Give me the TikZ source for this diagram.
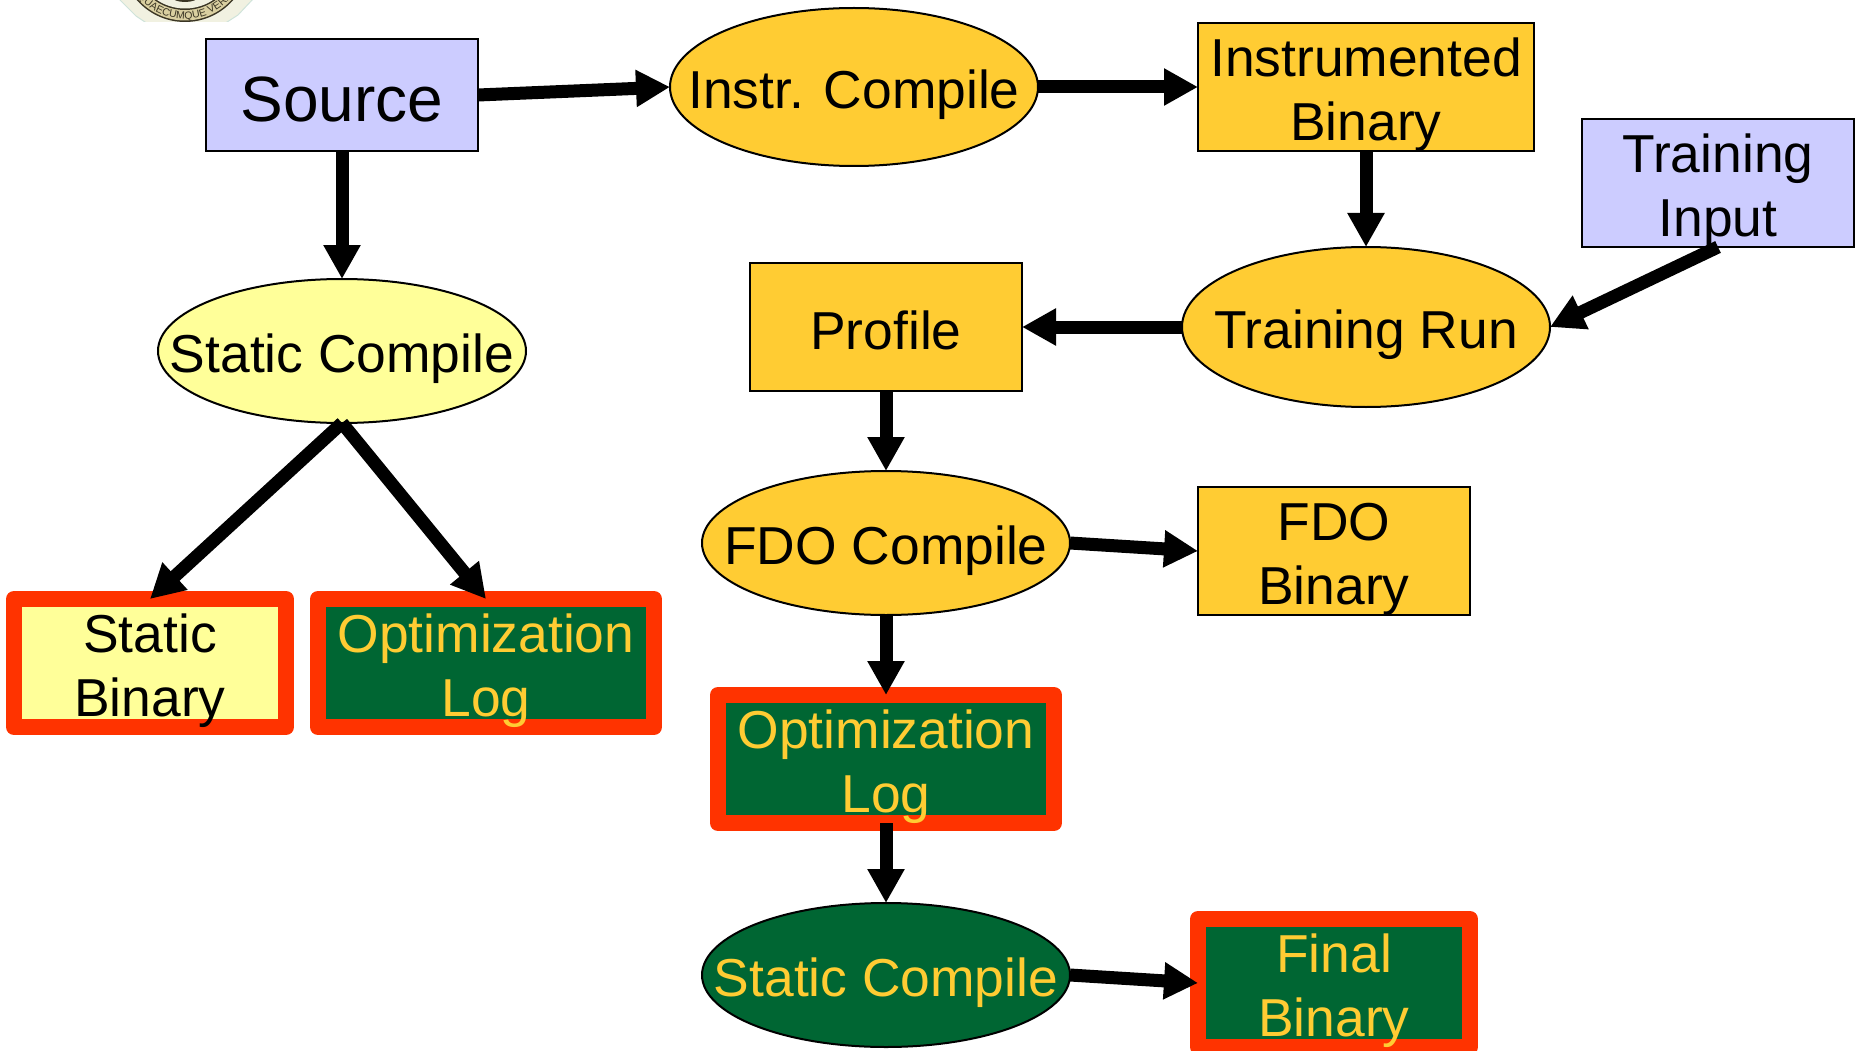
\documentclass[tikz,border=0pt]{standalone}
\usepackage{fontspec}
\setmainfont{Liberation Sans}
\usetikzlibrary{shapes.geometric,arrows.meta,decorations.text}
\definecolor{lav}{HTML}{CCCCFF}
\definecolor{pale}{HTML}{FFFF99}
\definecolor{amber}{HTML}{FFCC33}
\definecolor{forest}{HTML}{006633}
\definecolor{alert}{HTML}{FF3300}
\definecolor{sealcream}{HTML}{F1F1E1}
\definecolor{sealtan}{HTML}{D9CFA0}
\definecolor{sealedge}{HTML}{CFE3DA}
\definecolor{sealdark}{HTML}{3A3524}
\tikzset{
  box/.style={rectangle,draw=black,line width=2pt,inner sep=0pt,outer sep=0pt},
  oval/.style={ellipse,draw=black,line width=2pt,inner sep=0pt,outer sep=0pt},
  lab/.style={inner sep=0pt,outer sep=0pt,align=center,yshift=-8pt,font=\fontsize{53.4}{64}\selectfont},
  alertbox/.style={rectangle,draw=alert,line width=16pt,line join=round,fill=forest,inner sep=0pt,outer sep=0pt,
     minimum width=336pt,minimum height=128pt},
  flow/.style={draw=black,line width=13pt,-{Triangle[length=34pt,width=35pt]}},
}
\begin{document}
\begin{tikzpicture}[x=1pt,y=-1pt]
\useasboundingbox (0,0) rectangle (1860,1051);
% seal, cut off by the top of the frame
\begin{scope}
\clip (100,0) rectangle (270,22);
\fill[sealcream,draw=sealedge,line width=1pt] (118,-2) -- (136,16) -- (148,24) -- (224,24) -- (238,15) -- (254,-2) -- cycle;
\fill[sealdark] (185,-42) circle[radius=64pt];
\fill[sealtan] (185,-42) circle[radius=62.5pt];
\fill[sealdark] (185,-42) circle[radius=52pt];
\fill[sealcream] (185,-42) circle[radius=50.5pt];
\fill[sealdark] (185,-3) ellipse[x radius=13pt,y radius=5pt];
\path[decorate,decoration={text along path,text align=center,
   text={|\fontsize{10.5}{10.5}\selectfont\color{sealdark}|QUAECUMQUE VERA}}]
   (138.3,-2.8) .. controls (162.7,26.2) and (207.3,26.2) .. (231.7,-2.8);
\end{scope}
% nodes
\node[box,fill=lav,minimum width=272pt,minimum height=112pt] (source) at (342,95) {};
\node[lab,yshift=3.5pt,font=\fontsize{64}{64}\selectfont] (sourceL) at (source) {Source};
\node[oval,fill=amber,minimum width=368pt,minimum height=158pt] (instr) at (854,87) {};
\node[lab] (instrL) at (instr) {Instr. Compile};
\node[box,fill=amber,minimum width=336pt,minimum height=128pt] (instbin) at (1366,87) {};
\node[lab] (instbinL) at (instbin) {Instrumented\\Binary};
\node[box,fill=lav,minimum width=272pt,minimum height=128pt] (input) at (1718,183) {};
\node[lab] (inputL) at (input) {Training\\Input};
\node[oval,fill=amber,minimum width=368pt,minimum height=160pt] (run) at (1366,327) {};
\node[lab] (runL) at (run) {Training Run};
\node[box,fill=amber,minimum width=272pt,minimum height=128pt] (profile) at (886,327) {};
\node[lab,yshift=4.5pt] (profileL) at (profile) {Profile};
\node[oval,fill=pale,minimum width=368pt,minimum height=144pt] (static) at (342,351) {};
\node[lab] (staticL) at (static) {Static Compile};
\node[oval,fill=amber,minimum width=368pt,minimum height=144pt] (fdo) at (886,543) {};
\node[lab] (fdoL) at (fdo) {FDO Compile};
\node[box,fill=amber,minimum width=272pt,minimum height=128pt] (fdobin) at (1334,551) {};
\node[lab] (fdobinL) at (fdobin) {FDO\\Binary};
\node[alertbox,fill=pale,minimum width=272pt] (sbin) at (150,663) {};
\node[lab] (sbinL) at (sbin) {Static\\Binary};
\node[alertbox] (log1) at (486,663) {};
\node[lab,text=amber] (log1L) at (log1) {Optimization\\Log};
\node[alertbox] (log2) at (886,759) {};
\node[lab,text=amber] (log2L) at (log2) {Optimization\\Log};
\node[oval,fill=forest,minimum width=368pt,minimum height=144pt] (final) at (886,975) {};
\node[lab,text=amber] (finalL) at (final) {Static Compile};
\node[alertbox,minimum width=272pt] (fbin) at (1334,983) {};
\node[lab,text=amber] (fbinL) at (fbin) {Final\\Binary};
% connectors
\draw[flow] (source.east) -- (instr.west);
\draw[flow] (instr.east) -- (instbin.west);
\draw[flow] (instbin.south) -- (run.north);
\draw[flow] (input.south) -- (run.east);
\draw[flow] (run.west) -- (profile.east);
\draw[flow] (profile.south) -- (fdo.north);
\draw[flow] (fdo.east) -- (fdobin.west);
\draw[flow] (fdo.south) -- (log2.north);
\draw[flow] (log2.south) -- (final.north);
\draw[flow] (final.east) -- (fbin.west);
\draw[flow] (source.south) -- (static.north);
\draw[flow] (static.south) -- (sbin.north);
\draw[flow] (static.south) -- (log1.north);
\end{tikzpicture}
\end{document}
